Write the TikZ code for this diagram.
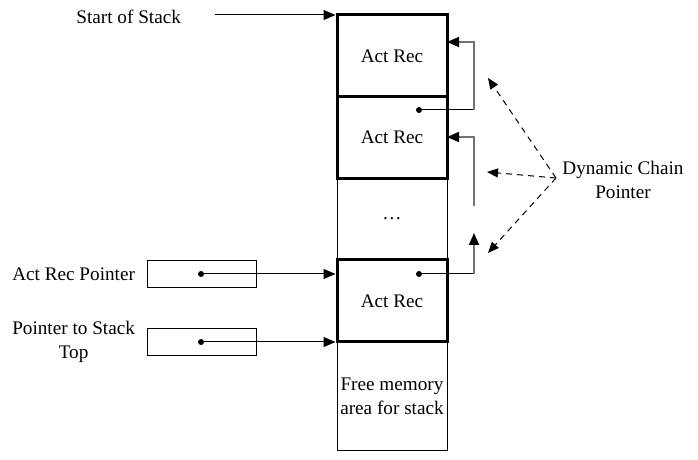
\documentclass[tikz,border=0pt]{standalone}
\usepackage{fontspec}
\setmainfont{Liberation Serif}
\usetikzlibrary{arrows.meta}

\begin{document}
\begin{tikzpicture}[x=0.5pt, y=-0.5pt, font=\fontsize{9.6}{11.8}\selectfont,
  rec/.style = {draw, line width=1.5pt, minimum width=55pt, minimum height=41pt, inner sep=0pt},
  cell/.style = {draw, line width=0.5pt, minimum width=55pt, inner sep=0pt, align=center},
  pbox/.style = {draw, line width=0.5pt, minimum width=54.5pt, minimum height=13.5pt},
  dot/.style = {circle, fill, inner sep=0pt, minimum size=3pt},
  ptr/.style = {line width=0.5pt, -{Triangle[length=6pt, width=5pt]}},
  chain/.style = {line width=0.8pt, black!55, -{Triangle[length=6pt, width=5pt, color=black]}},
  dyn/.style = {line width=0.5pt, dashed, dash pattern=on 3pt off 2.5pt, -{Triangle[length=5.5pt, width=4.5pt]}}]
  \useasboundingbox (0,0) rectangle (698,460);

  % stack column
  \node[cell, minimum height=41pt] (dots) at (392,219) {\dots};
  \node[cell, minimum height=54.5pt] (free) at (392,396.5) {Free memory\\area for stack};
  \node[rec] (rec1) at (392,56) {Act Rec};
  \node[rec] (rec2) at (392,137.5) {Act Rec};
  \node[rec] (rec3) at (392,301) {Act Rec};

  % labels and pointer boxes
  \node[anchor=east] (start) at (188,17) {Start of Stack};
  \node[pbox] (arp) at (201.5,274) {};
  \node[pbox] (stp) at (201.5,342) {};
  \node[anchor=east] (arplab) at (142,274) {Act Rec Pointer};
  \node[anchor=east, align=center] (stplab) at (142,342) {Pointer to Stack\\Top};

  \node[dot] (d0) at (201,274) {};
  \node[dot] (d1) at (201,342) {};
  \coordinate (s0) at (215,15);
  \draw[ptr] (s0) -- (s0 -| rec1.west);
  \draw[ptr] (d0) -- (d0 -| rec3.west);
  \draw[ptr] (d1) -- (d1 -| rec3.west);

  % dynamic chain
  \node[dot] (d2) at (419,110) {};
  \node[dot] (d3) at (419,274) {};
  \coordinate (c2) at (474,110);
  \coordinate (c3) at (474,274);
  \coordinate (t1) at (447,42);
  \coordinate (b2) at (474,206);
  \coordinate (t2) at (447,137);
  \coordinate (t3) at (474,233);
  \draw[line width=0.5pt] (d2) -- (c2);
  \draw[chain] (c2) |- (t1);
  \draw[chain] (b2) |- (t2);
  \draw[line width=0.5pt] (d3) -- (c3);
  \draw[chain] (c3) -- (t3);

  \node[align=center] (dcp) at (623,180) {Dynamic Chain\\Pointer};
  \coordinate (hub) at (556,178);
  \draw[dyn] (hub) -- (488,78);
  \draw[dyn] (hub) -- (487,172);
  \draw[dyn] (hub) -- (488,253);
\end{tikzpicture}
\end{document}
